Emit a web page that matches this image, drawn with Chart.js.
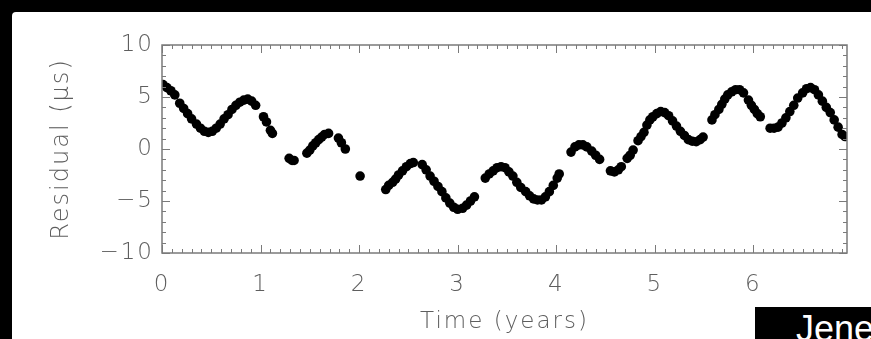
<!DOCTYPE html>
<html>
<head>
<meta charset="utf-8">
<script src="https://cdn.jsdelivr.net/npm/chart.js@4.4.1/dist/chart.umd.min.js"></script>
<style>
  html, body { margin: 0; padding: 0; background: #000; overflow: hidden; }
  #panel { position: absolute; left: 12px; top: 12px; width: 859px; height: 327px; background: #fff; border-top-left-radius: 4px; }
  #plot { position: absolute; left: 0; top: 0; }
  #tag { position: absolute; left: 755px; top: 307px; width: 116px; height: 32px; background: #000; overflow: hidden; }
  #tag span { position: absolute; left: 41px; top: 4px; color: #fff; font: 36px/36px "Liberation Sans", sans-serif; white-space: nowrap; }
</style>
</head>
<body>
<div id="panel"></div>
<canvas id="plot" width="871" height="339"></canvas>
<div id="tag"><span>Jenet</span></div>
<script>
// timing residuals, one entry per observation
const timeYears = [
  0.01, 0.05, 0.09, 0.13, 0.18, 0.22, 0.26, 0.30, 0.35, 0.39, 0.43, 0.47, 0.51, 0.55, 0.59, 0.63,
  0.67, 0.71, 0.75, 0.79, 0.83, 0.87, 0.91, 0.95,
  1.03, 1.06, 1.10, 1.12,
  1.29, 1.32, 1.34,
  1.47, 1.50, 1.53, 1.56, 1.59, 1.62, 1.65, 1.69,
  1.79, 1.82, 1.86,
  2.01,
  2.27, 2.30, 2.34, 2.37, 2.40, 2.44, 2.48, 2.52, 2.55,
  2.64, 2.68, 2.72, 2.76, 2.80, 2.84, 2.88, 2.92, 2.96, 3.00, 3.05, 3.09, 3.13, 3.17,
  3.28, 3.32, 3.36, 3.40, 3.44, 3.48, 3.52, 3.56, 3.60, 3.64, 3.69, 3.73, 3.77, 3.81, 3.85, 3.89,
  3.93, 3.97, 4.01, 4.03,
  4.15, 4.19, 4.23, 4.27, 4.31, 4.36, 4.40, 4.44,
  4.55, 4.59, 4.63, 4.66,
  4.72, 4.75, 4.78,
  4.83, 4.86, 4.89,
  4.92, 4.95, 4.98, 5.02, 5.06, 5.10, 5.14, 5.18, 5.22, 5.26, 5.30, 5.34, 5.38, 5.42, 5.46, 5.49,
  5.58, 5.61, 5.65, 5.68, 5.71, 5.74, 5.78, 5.82, 5.86, 5.90,
  5.95, 5.98, 6.01, 6.04, 6.07,
  6.17, 6.21, 6.25, 6.29, 6.33, 6.37, 6.41, 6.45, 6.50, 6.54, 6.58, 6.62, 6.66, 6.70, 6.74, 6.78,
  6.82, 6.86, 6.90, 6.93
];
const residualUs = [
  6.2, 5.9, 5.6, 5.2, 4.4, 3.9, 3.4, 2.9, 2.4, 2.0, 1.7, 1.6, 1.7, 2.0, 2.4, 2.9,
  3.3, 3.8, 4.2, 4.5, 4.7, 4.8, 4.6, 4.2,
  3.1, 2.6, 1.8, 1.5,
  -0.9, -1.1, -1.1,
  -0.4, -0.1, 0.3, 0.6, 0.9, 1.15, 1.4, 1.5,
  1.05, 0.6, 0.0,
  -2.6,
  -3.9, -3.5, -3.2, -2.9, -2.5, -2.1, -1.7, -1.4, -1.3,
  -1.5, -2.0, -2.6, -3.1, -3.6, -4.1, -4.7, -5.2, -5.6, -5.8, -5.7, -5.4, -5.0, -4.6,
  -2.8, -2.4, -2.1, -1.8, -1.7, -1.8, -2.2, -2.6, -3.2, -3.7, -4.1, -4.5, -4.8, -4.9, -4.9, -4.6,
  -4.1, -3.5, -2.8, -2.4,
  -0.3, 0.2, 0.4, 0.4, 0.2, -0.2, -0.6, -1.0,
  -2.1, -2.2, -2.0, -1.7,
  -0.9, -0.6, -0.1,
  0.8, 1.2, 1.6,
  2.3, 2.8, 3.1, 3.4, 3.6, 3.5, 3.2, 2.7, 2.2, 1.7, 1.3, 0.9, 0.75, 0.7, 0.9, 1.15,
  2.8, 3.3, 3.8, 4.3, 4.8, 5.2, 5.5, 5.7, 5.7, 5.4,
  4.7, 4.2, 3.8, 3.4, 3.1,
  2.0, 2.0, 2.1, 2.5, 3.0, 3.6, 4.2, 4.9, 5.4, 5.8, 5.9, 5.7, 5.2, 4.6, 4.0, 3.5,
  2.8, 2.1, 1.4, 1.2
];

const xTicks = [0, 1, 2, 3, 4, 5, 6];
const xTickLabels = ['0', '1', '2', '3', '4', '5', '6'];
const yTicks = [-10, -5, 0, 5, 10];
const yTickLabels = ['\u221210', '\u22125', '0', '5', '10'];

const points = timeYears.map((t, i) => ({ x: t, y: residualUs[i] }));

const axisGray = '#7a7a7a';
const textGray = '#5e5e5e';
const labelFont = { family: '"DejaVu Sans", sans-serif', size: 23, weight: 200 };

// wide, airy lettering for all axis text
const spacingPlugin = {
  id: 'spacing',
  beforeDraw(chart) { chart.ctx.letterSpacing = '2px'; }
};

// IDL-style frame: box on all four sides with inward major/minor ticks
const framePlugin = {
  id: 'frame',
  afterDatasetsDraw(chart) {
    const { ctx, chartArea: a, scales: { x, y } } = chart;
    ctx.save();
    ctx.strokeStyle = axisGray;
    ctx.lineWidth = 1.5;
    ctx.strokeRect(a.left, a.top, a.right - a.left, a.bottom - a.top);
    ctx.lineWidth = 1;
    ctx.beginPath();
    for (let i = 0; i <= 69; i++) {
      const px = Math.round(x.getPixelForValue(i / 10)) + 0.5;
      const len = i % 10 === 0 ? 8 : 4;
      ctx.moveTo(px, a.bottom); ctx.lineTo(px, a.bottom - len);
      ctx.moveTo(px, a.top); ctx.lineTo(px, a.top + len);
    }
    for (let v = -10; v <= 10; v++) {
      const py = Math.round(y.getPixelForValue(v)) + 0.5;
      const len = v % 5 === 0 ? 8 : 4;
      ctx.moveTo(a.left, py); ctx.lineTo(a.left + len, py);
      ctx.moveTo(a.right, py); ctx.lineTo(a.right - len, py);
    }
    ctx.stroke();
    ctx.restore();
  }
};

const ctx = document.getElementById('plot').getContext('2d');
new Chart(ctx, {
  type: 'scatter',
  data: {
    datasets: [{
      data: points,
      backgroundColor: '#000',
      borderWidth: 0,
      pointRadius: 4.8,
      clip: 0
    }]
  },
  options: {
    responsive: false,
    animation: false,
    layout: { padding: { top: 45, right: 24, left: 0, bottom: 0 } },
    plugins: { legend: { display: false }, tooltip: { enabled: false } },
    scales: {
      x: {
        type: 'linear',
        min: 0,
        max: 6.95,
        afterBuildTicks: s => { s.ticks = xTicks.map(v => ({ value: v })); },
        afterFit: s => { s.height = 86; },
        grid: { display: false, drawTicks: false },
        border: { display: false },
        ticks: {
          padding: 18,
          color: textGray,
          font: labelFont,
          maxRotation: 0,
          callback: v => xTickLabels[xTicks.indexOf(v)]
        },
        title: {
          display: true,
          text: 'Time (years)',
          color: textGray,
          font: labelFont,
          padding: { top: 0, bottom: 3 }
        }
      },
      y: {
        type: 'linear',
        min: -10,
        max: 10,
        afterBuildTicks: s => { s.ticks = yTicks.map(v => ({ value: v })); },
        afterFit: s => { s.width = 162; },
        grid: { display: false, drawTicks: false },
        border: { display: false },
        ticks: {
          padding: 8,
          color: textGray,
          font: labelFont,
          callback: v => yTickLabels[yTicks.indexOf(v)]
        },
        title: {
          display: true,
          text: 'Residual (\u03bcs)',
          color: textGray,
          font: { ...labelFont, size: 24 },
          padding: { top: 47, bottom: 0 }
        }
      }
    }
  },
  plugins: [spacingPlugin, framePlugin]
});
</script>
</body>
</html>
